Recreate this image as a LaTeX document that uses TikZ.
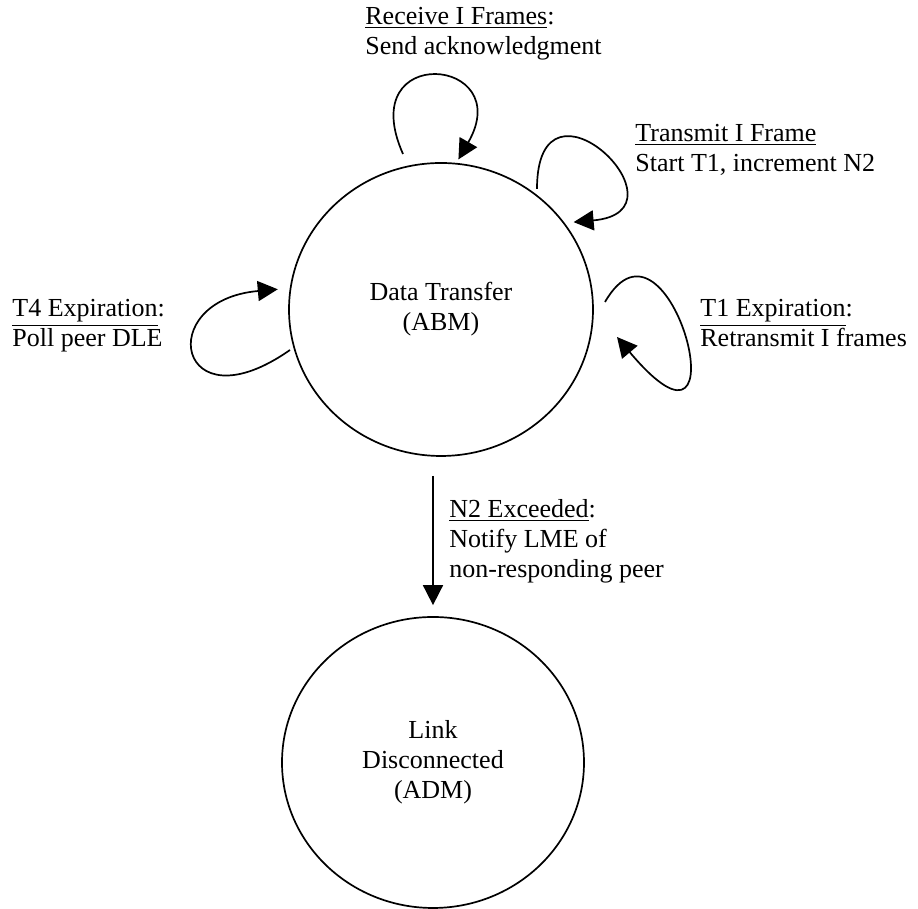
\documentclass[tikz,border=0pt]{standalone}
\usepackage{fontspec}
\setmainfont{Liberation Serif}
\usetikzlibrary{arrows.meta,shapes.geometric,positioning}

\begin{document}
\begin{tikzpicture}[x=0.5pt,y=0.5pt,
  state/.style={draw,ellipse,line width=0.85pt,inner sep=0pt,align=center,font=\fontsize{13}{15}\selectfont},
  lbl/.style={anchor=north west,inner sep=0pt,align=left,font=\fontsize{13}{15}\selectfont},
  trans/.style={line width=0.85pt,-{Triangle[length=10pt,width=10pt]}}]
\useasboundingbox (0,0) rectangle (918,909);
\node[state,minimum width=152pt,minimum height=146.5pt] (dt) at (441,599.5) {Data Transfer\\(ABM)};
\node[state,minimum width=151pt,minimum height=145.5pt] (ld) at (433,146.5) {Link\\Disconnected\\(ADM)};

\node[lbl] (rcv) at (365,902) {\underline{Receive I Frames}:\\Send acknowledgment};
\node[lbl] (tx) at (635,785) {\underline{Transmit I Frame}\\Start T1, increment N2};
\node[lbl] (t4) at (12,610) {\underline{T4 Expiration}:\\Poll peer DLE};
\node[lbl] (t1) at (700,610) {\underline{T1 Expiration}:\\Retransmit I frames};
\node[lbl] (n2) at (449,410) {\underline{N2 Exceeded}:\\Notify LME of\\non-responding peer};

\coordinate (rcvs) at (403,755);
\coordinate (txs) at (537,720);
\coordinate (t4s) at (290,559);
\coordinate (t1s) at (605,607);
\coordinate (t1e) at (617,572);

\draw[trans,shorten >=2pt] (rcvs) to[out=114,in=60,looseness=5.8] (dt.84);
\draw[trans,shorten >=4.5pt] (txs) to[out=90,in=5,looseness=7.7] (dt.35);
\draw[trans,shorten >=6pt] (t4s) to[out=215,in=185,looseness=5.7] (dt.172);
\draw[trans] (t1s) to[out=60,in=-50,out distance=65pt,in distance=102pt] (t1e);
\draw[trans,shorten <=9.5pt,shorten >=5.5pt] (dt.south -| ld.north) -- (ld.north);
\end{tikzpicture}
\end{document}
